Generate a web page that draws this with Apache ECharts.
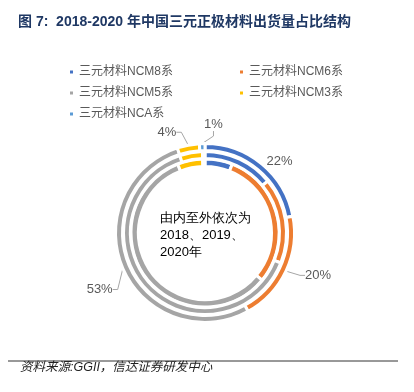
<!DOCTYPE html>
<html><head><meta charset="utf-8">
<script src="https://cdn.jsdelivr.net/npm/echarts@6/dist/echarts.min.js"></script>
<style>html,body{margin:0;padding:0;background:#fff}#c{width:414px;height:392px}</style>
</head><body><div id="c"></div>
<script>
// ---- data ----
const categories = ['三元材料NCM8系', '三元材料NCM6系', '三元材料NCM5系', '三元材料NCM3系', '三元材料NCA系'];
const years = ['2018', '2019', '2020'];
const share2018 = [6, 30, 58, 5.5, 0.5];
const share2019 = [14, 17, 64, 4.5, 0.5];
const share2020 = [22, 20, 53, 4, 1];
const titleText = '图 7:  2018-2020 年中国三元正极材料出货量占比结构';
const centerNote = ['由内至外依次为', '2018、2019、', '2020年'];
const sourceNote = '资料来源:GGII，信达证券研发中心';

// ---- styles ----
const colors = ['#4472C4', '#ED7D31', '#A5A5A5', '#FFC000', '#5B9BD5'];
const ringRadii = [[66.5, 74], [74.5, 81.5], [82.5, 89.5]];
const labelShift = [[-12, 5], [0, 0], [9, 17], [0, -3], [31, -9]];
const leaderShown = [false, true, true, true, true];
const cjk = '"Liberation Sans", "Noto Sans CJK SC", sans-serif';

const shares = [share2018, share2019, share2020];
const series = shares.map((vals, i) => {
  const outer = i === shares.length - 1;
  return {
    type: 'pie', name: years[i], center: [205, 233], radius: ringRadii[i],
    startAngle: 90, clockwise: true, avoidLabelOverlap: false, silent: true,
    itemStyle: { borderColor: '#fff', borderWidth: 3 },
    label: outer ? { show: true, position: 'outside', formatter: p => p.value + '%', color: '#595959', fontSize: 13, fontFamily: cjk } : { show: false },
    labelLine: outer ? { show: true, length: 10, length2: 5, lineStyle: { color: '#A6A6A6', width: 1 } } : { show: false },
    labelLayout: outer ? function (p) {
      const s = labelShift[p.dataIndex];
      return { hideOverlap: false, x: p.labelRect.x + s[0], y: p.labelRect.y + s[1], align: 'left', verticalAlign: 'top' };
    } : undefined,
    emphasis: { disabled: true },
    data: categories.map((c, j) => ({ name: c, value: vals[j], labelLine: { show: outer && leaderShown[j] } }))
  };
});

const chart = echarts.init(document.getElementById('c'), null, { renderer: 'canvas' });
chart.setOption({
  animation: false,
  color: colors,
  title: {
    text: titleText, left: 18, top: 14, padding: 0,
    textStyle: { fontSize: 14, fontWeight: 'bold', color: '#1F3864', fontFamily: cjk, lineHeight: 16 }
  },
  legend: {
    left: 68, top: 66, padding: 0, width: 335, itemWidth: 5, itemHeight: 5, itemGap: 9, icon: 'rect',
    selectedMode: false,
    textStyle: { color: '#595959', fontSize: 12, width: 150, lineHeight: 12, fontFamily: cjk },
    data: categories
  },
  graphic: [
    { type: 'text', left: 160, top: 210, style: { text: centerNote.join('\n'), fontSize: 13, lineHeight: 17, fill: '#000', font: '13px ' + cjk } },
    { type: 'line', shape: { x1: 8, y1: 361, x2: 398, y2: 361 }, style: { stroke: '#333', lineWidth: 1 } },
    { type: 'text', left: 20, top: 361, style: { text: sourceNote, fill: '#222', font: 'italic 12.5px ' + cjk } }
  ],
  series: series
});
</script></body></html>
